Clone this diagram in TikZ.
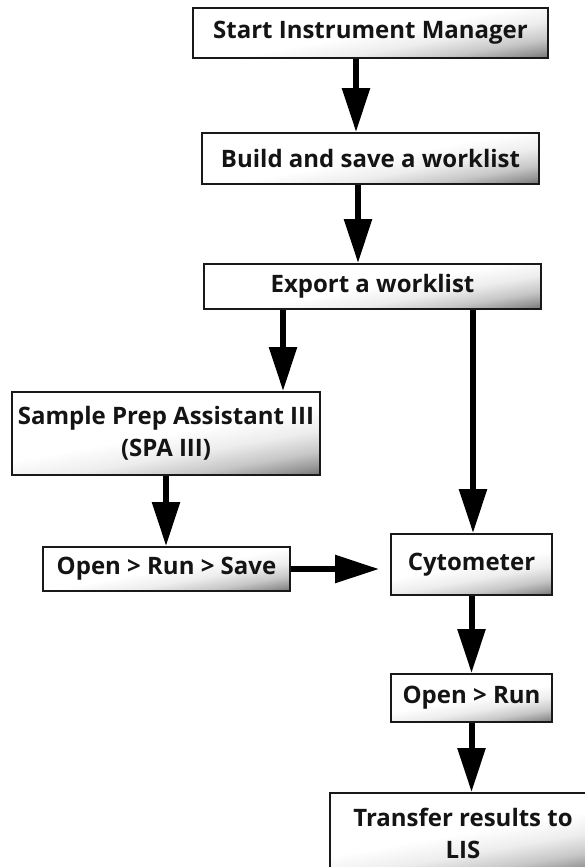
\documentclass[tikz,border=0pt]{standalone}
\usepackage{fontspec}
\setmainfont{Open Sans}
\usetikzlibrary{arrows.meta}
\pgfdeclareverticalshading{boxshade}{100bp}{color(0bp)=(black!60); color(20bp)=(black!58); color(25bp)=(black!40); color(31bp)=(black!22); color(40bp)=(black!7); color(50bp)=(white); color(100bp)=(white)}
\tikzset{
  box/.style={draw=black!90, line width=2pt, shading=boxshade, shading angle=10, inner sep=0pt,
    font=\bfseries\fontsize{24}{32}\selectfont, align=center, text=black!92},
  arr/.style={line width=6pt, draw=black, -{Triangle[width=27pt,length=44pt]}}
}
\begin{document}
\begin{tikzpicture}[x=1pt,y=-1pt]
\useasboundingbox (0,0) rectangle (585,867);
\node[box, minimum width=355pt, minimum height=50pt] (b1) at (370.5,33) {Start Instrument Manager};
\node[box, minimum width=337pt, minimum height=51pt] (b2) at (370.5,158.5) {Build and save a worklist};
\node[box, minimum width=337pt, minimum height=45pt] (b3) at (372.5,286.5) {Export a worklist};
\node[box, minimum width=308pt, minimum height=83pt] (b4) at (166,433.5) {Sample Prep Assistant III\\(SPA III)};
\node[box, minimum width=247pt, minimum height=44pt] (b5) at (166.5,569) {Open > Run > Save};
\node[box, minimum width=161pt, minimum height=61pt] (b6) at (471.5,564.5) {Cytometer};
\node[box, minimum width=161pt, minimum height=48pt] (b7) at (471.5,698) {Open > Run};
\node[box, minimum width=266pt, minimum height=80pt] (b8) at (463,833) {Transfer results to\\LIS};
\draw[arr] ([xshift=-14.5pt]b1.south) -- ([xshift=-14.5pt]b1.south |- b2.north);
\draw[arr] ([xshift=-12.5pt]b2.south) -- ([xshift=-12.5pt]b2.south |- b3.north);
\draw[arr] ([xshift=-89.5pt]b3.south) -- ([xshift=-89.5pt]b3.south |- b4.north);
\draw[arr] ([xshift=100.5pt]b3.south) -- ([xshift=100.5pt]b3.south |- b6.north);
\draw[arr] (b4.south) -- (b4.south |- b5.north);
\draw[arr, shorten >=11pt] (b5.east) -- (b5.east -| b6.west);
\draw[arr] (b6.south) -- (b6.south |- b7.north);
\draw[arr] (b7.south) -- (b7.south |- b8.north);
\end{tikzpicture}
\end{document}
